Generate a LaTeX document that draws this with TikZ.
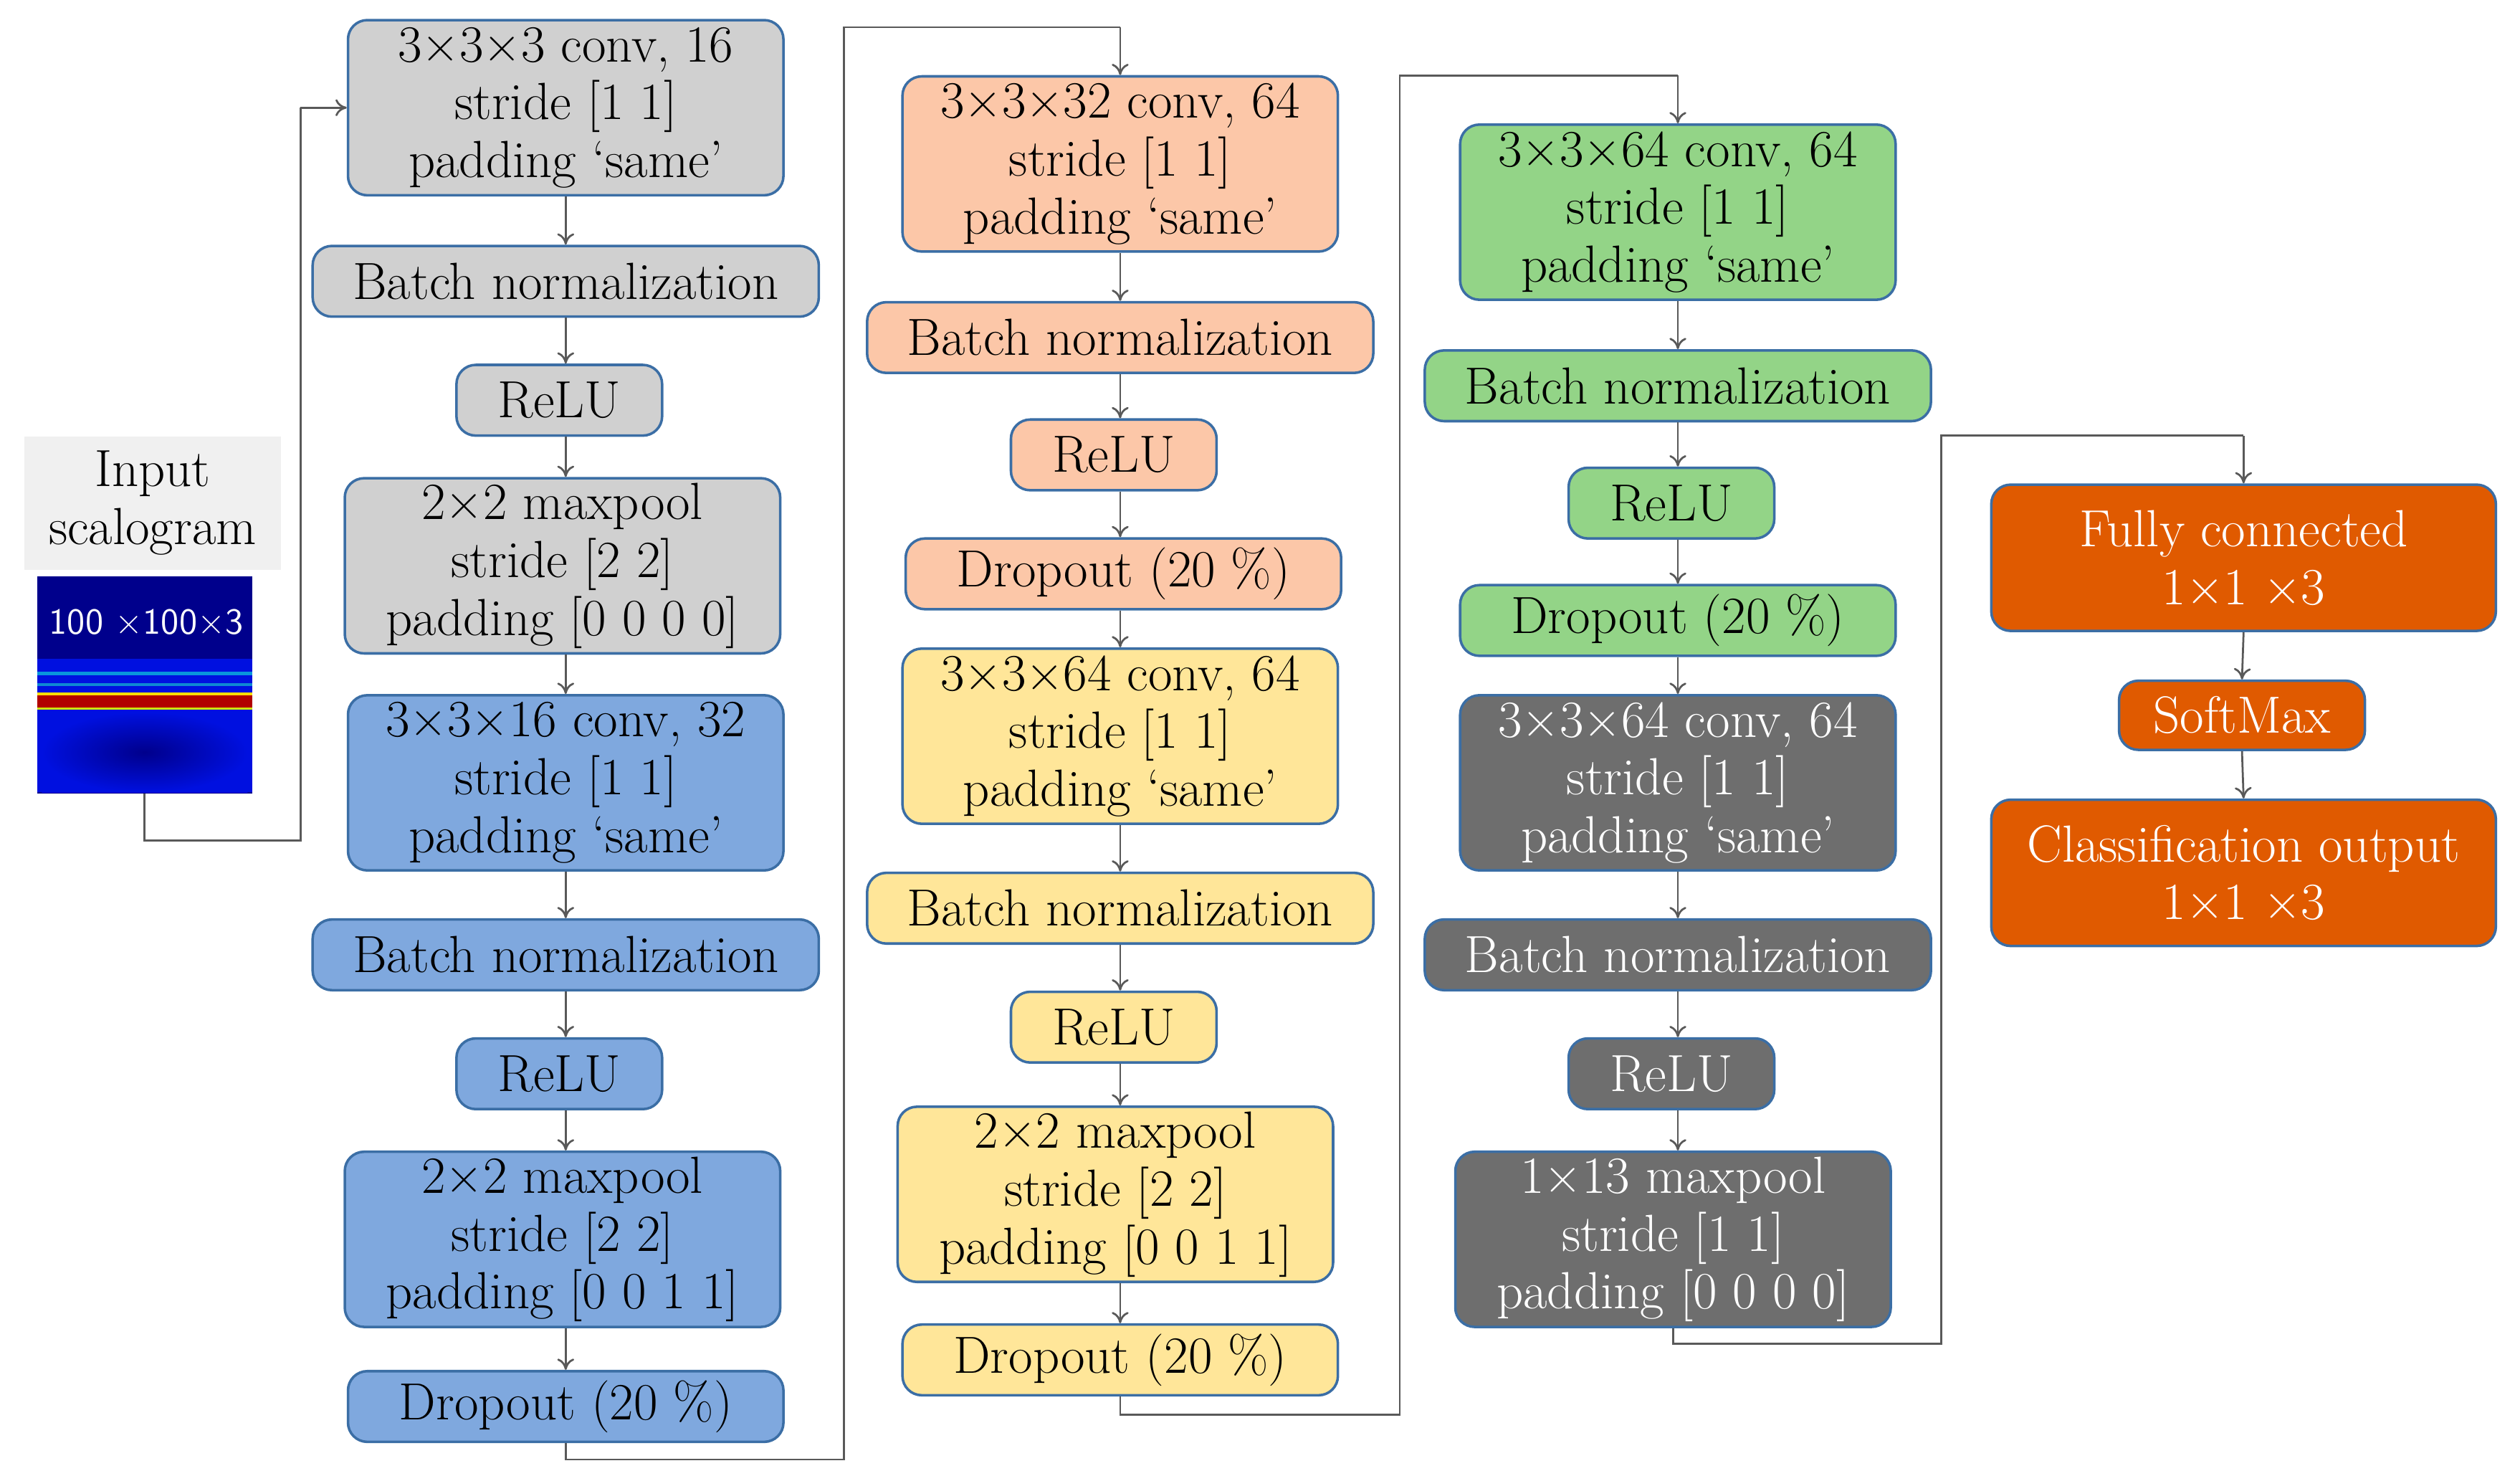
\documentclass[tikz,border=0pt]{standalone}
\usepackage{fontspec}
\usetikzlibrary{arrows.meta,positioning}
\definecolor{lnc}{HTML}{595959}
\definecolor{bord}{HTML}{3B6EA5}
\definecolor{cgray}{HTML}{D0D0D0}
\definecolor{cblue}{HTML}{7FA8DE}
\definecolor{corange}{HTML}{FCC7A8}
\definecolor{cyellow}{HTML}{FFE699}
\definecolor{cgreen}{HTML}{93D487}
\definecolor{cdark}{HTML}{6E6E6E}
\definecolor{cdeep}{HTML}{E05A00}
\definecolor{sdark}{HTML}{00008C}
\definecolor{sblue}{HTML}{0010E0}
\begin{document}
\begin{tikzpicture}[x=0.02cm,y=-0.02cm,
  box/.style={draw=bord,line width=0.9pt,rounded corners=0.24cm,align=center,inner sep=0pt,
    font=\fontsize{18.5}{20.5}\selectfont,text=black},
  big/.style={box,minimum width=5.42cm,minimum height=2.18cm},
  wide/.style={box,minimum width=6.3cm,minimum height=0.88cm},
  mid/.style={box,minimum width=5.42cm,minimum height=0.88cm},
  small/.style={box,minimum width=2.56cm,minimum height=0.88cm},
  outbox/.style={box,minimum width=6.28cm,minimum height=1.82cm,fill=cdeep,text=white},
  arr/.style={draw=lnc,line width=0.7pt,-{To[length=4pt,width=6pt]}},
  ln/.style={draw=lnc,line width=0.7pt}]
\useasboundingbox (0,0) rectangle (1568,918);
% column 1
\node[big,fill=cgray] (c1) at (352,67) {3×3×3 conv, 16\\stride [1 1]\\padding ‘same’};
\node[wide,fill=cgray] (b1) at (352,175) {Batch normalization};
\node[small,fill=cgray] (r1) at (348,249) {ReLU};
\node[big,fill=cgray] (m1) at (350,352) {2×2 maxpool\\stride [2 2]\\padding [0 0 0 0]};
\node[big,fill=cblue] (c2) at (352,487) {3×3×16 conv, 32\\stride [1 1]\\padding ‘same’};
\node[wide,fill=cblue] (b2) at (352,594) {Batch normalization};
\node[small,fill=cblue] (r2) at (348,668) {ReLU};
\node[big,fill=cblue] (m2) at (350,771) {2×2 maxpool\\stride [2 2]\\padding [0 0 1 1]};
\node[mid,fill=cblue] (d2) at (352,875) {Dropout (20 \%)};
% column 2
\node[big,fill=corange] (c3) at (697,102) {3×3×32 conv, 64\\stride [1 1]\\padding ‘same’};
\node[wide,fill=corange] (b3) at (697,210) {Batch normalization};
\node[small,fill=corange] (r3) at (693,283) {ReLU};
\node[mid,fill=corange] (d3) at (699,357) {Dropout (20 \%)};
\node[big,fill=cyellow] (c4) at (697,458) {3×3×64 conv, 64\\stride [1 1]\\padding ‘same’};
\node[wide,fill=cyellow] (b4) at (697,565) {Batch normalization};
\node[small,fill=cyellow] (r4) at (693,639) {ReLU};
\node[big,fill=cyellow] (m4) at (694,743) {2×2 maxpool\\stride [2 2]\\padding [0 0 1 1]};
\node[mid,fill=cyellow] (d4) at (697,846) {Dropout (20 \%)};
% column 3
\node[big,fill=cgreen] (c5) at (1044,132) {3×3×64 conv, 64\\stride [1 1]\\padding ‘same’};
\node[wide,fill=cgreen] (b5) at (1044,240) {Batch normalization};
\node[small,fill=cgreen] (r5) at (1040,313) {ReLU};
\node[mid,fill=cgreen] (d5) at (1044,386) {Dropout (20 \%)};
\node[big,fill=cdark,text=white] (c6) at (1044,487) {3×3×64 conv, 64\\stride [1 1]\\padding ‘same’};
\node[wide,fill=cdark,text=white] (b6) at (1044,594) {Batch normalization};
\node[small,fill=cdark,text=white] (r6) at (1040,668) {ReLU};
\node[big,fill=cdark,text=white] (m6) at (1041,771) {1×13 maxpool\\stride [1 1]\\padding [0 0 0 0]};
% column 4
\node[outbox] (fc) at (1396,347) {Fully connected\\1×1 ×3};
\node[box,fill=cdeep,text=white,minimum width=3.06cm,minimum height=0.86cm] (sm) at (1395,445) {SoftMax};
\node[outbox] (co) at (1396,543) {Classification output\\1×1 ×3};
% input
\node[fill=black!6,minimum width=3.2cm,minimum height=1.66cm,align=center,inner sep=0pt,
  font=\fontsize{18.5}{20.5}\selectfont] (inl) at (95,313) {Input\\scalogram};
\node[fill=sdark,minimum width=2.68cm,minimum height=2.7cm,inner sep=0pt] (img) at (90,426) {};
\fill[sblue] (23,410) rectangle (157,493);
\shade[inner color=sdark,outer color=sblue] (26,443) rectangle (154,493);
\fill[cyan!80!blue] (23,418) rectangle (157,420);
\fill[cyan!70!blue] (23,425) rectangle (157,427);
\fill[yellow!80!orange] (23,431) rectangle (157,432.5);
\fill[red!70!black] (23,432.5) rectangle (157,440);
\fill[yellow!80!green] (23,440) rectangle (157,441.5);
\node[text=white,font=\sffamily\fontsize{13}{15}\selectfont] (lab) at (91,387) {100 ×100×3};
% connectors
\coordinate (p1) at (90,523); \coordinate (p2) at (187,523); \coordinate (p3) at (187,67);
\draw[ln] (img.south) -- (p1) -- (p2) -- (p3);
\draw[arr] (p3) -- (c1.west);
\foreach \a/\b in {c1/b1,b1/r1,r1/m1,m1/c2,c2/b2,b2/r2,r2/m2,m2/d2}
  \draw[arr] (\a.south -| c1.south) -- (\b.north -| c1.south);
\foreach \a/\b in {c3/b3,b3/r3,r3/d3,d3/c4,c4/b4,b4/r4,r4/m4,m4/d4}
  \draw[arr] (\a.south -| c3.south) -- (\b.north -| c3.south);
\foreach \a/\b in {c5/b5,b5/r5,r5/d5,d5/c6,c6/b6,b6/r6,r6/m6}
  \draw[arr] (\a.south -| c5.south) -- (\b.north -| c5.south);
\draw[arr] (fc.south) -- (sm.north);
\draw[arr] (sm.south) -- (co.north);
\coordinate (q1) at (352,908); \coordinate (q2) at (525,908); \coordinate (q3) at (525,17); \coordinate (q4) at (697,17);
\draw[ln] (d2.south) -- (q1) -- (q2) -- (q3) -- (q4);
\draw[arr] (q4) -- (c3.north);
\coordinate (s1) at (697,880); \coordinate (s2) at (871,880); \coordinate (s3) at (871,47); \coordinate (s4) at (1044,47);
\draw[ln] (d4.south) -- (s1) -- (s2) -- (s3) -- (s4);
\draw[arr] (s4) -- (c5.north);
\coordinate (t1) at (1041,836); \coordinate (t2) at (1208,836); \coordinate (t3) at (1208,271); \coordinate (t4) at (1396,271);
\draw[ln] (m6.south) -- (t1) -- (t2) -- (t3) -- (t4);
\draw[arr] (t4) -- (fc.north);
\end{tikzpicture}
\end{document}
